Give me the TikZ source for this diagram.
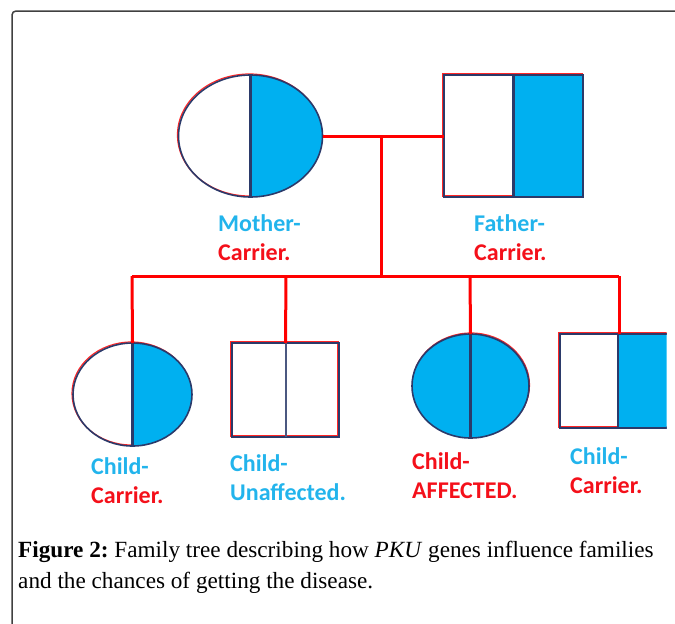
\documentclass[tikz,border=0pt]{standalone}
\usepackage{fontspec}
\setmainfont{Liberation Serif}
\newfontfamily\lblfont{Carlito}
\usetikzlibrary{shapes.geometric}
\definecolor{fillblue}{HTML}{00B0F0}
\definecolor{lblue}{HTML}{22B4EC}
\definecolor{lred}{HTML}{F4101A}
\definecolor{navy}{HTML}{2B3A6A}
\definecolor{framegray}{HTML}{404040}
\tikzset{
  person/.style={draw=navy, line width=1.6pt, inner sep=0pt, outer sep=0pt},
  fem/.style={person, ellipse},
  mal/.style={person, rectangle},
  halffill/.style={path picture={\fill[fillblue] (path picture bounding box.north) rectangle (path picture bounding box.south east);}},
  fullfill/.style={fill=fillblue},
  divider/.style={draw=navy, line width=2.2pt},
  redfringe/.style={draw=red!85, line width=1.2pt},
  link/.style={draw=red, line width=3pt},
  lbl/.style={anchor=base west, align=left, inner sep=0pt, font=\lblfont\bfseries\fontsize{24}{29}\selectfont},
  frame/.style={draw=framegray, line width=1.5pt, rounded corners=4pt},
  captext/.style={anchor=base west, align=left, inner sep=0pt, font=\frenchspacing\fontsize{23.2}{31}\selectfont}
}
\begin{document}
\begin{tikzpicture}[x=1pt,y=-1pt]
\useasboundingbox (0,0) rectangle (675,624);
\draw[frame] (12,640) |- (690,11);
% parents
\draw[redfringe] (249.5,135) ellipse [x radius=72, y radius=61];
\node[fem, halffill, minimum width=144pt, minimum height=122pt] (mother) at (250.5,136) {};
\draw[divider] (mother.north) -- (mother.south);
\draw[redfringe] (443,74) rectangle (582,196);
\node[mal, minimum width=139pt, minimum height=122pt] (father) at (513.5,136) {};
\fill[fillblue] (514,75) rectangle (583,197);
\draw[navy, line width=1.6pt] (father.north west) rectangle (father.south east);
\draw[divider] (father.north) -- (father.south);
% links
\coordinate (mid) at (381,136);
\coordinate (bar) at (381,276);
\coordinate (b1) at (132,276);
\coordinate (b2) at (286,276);
\coordinate (b3) at (470,276);
\coordinate (b4) at (619,276);
\draw[link] (mother.east) -- (father.west);
\draw[link] (mid) -- (bar);
\draw[link] (b1) -- (b4);
% children
\draw[redfringe] (131.5,393.5) ellipse [x radius=59.5, y radius=51.5];
\node[fem, halffill, minimum width=119pt, minimum height=103pt] (c1) at (132.5,394.5) {};
\draw[divider] (c1.north) -- (c1.south);
\draw[redfringe] (231,342) rectangle (338,436);
\node[mal, minimum width=107pt, minimum height=94pt] (c2) at (285.5,390) {};
\draw[divider, line width=2pt, draw=navy!85] (c2.north) -- (c2.south);
\draw[redfringe] (471,385) ellipse [x radius=58.5, y radius=52];
\node[fem, fullfill, minimum width=117pt, minimum height=104pt] (c3) at (470.5,386) {};
\draw[divider] (c3.north) -- (c3.south);
\begin{scope}
\clip (0,0) rectangle (666.5,624);
\draw[redfringe] (559,333) rectangle (690,427);
\node[mal, minimum width=130pt, minimum height=94pt] (c4) at (625,381) {};
\fill[fillblue] (618,334) rectangle (690,428);
\draw[navy, line width=1.6pt] (c4.north west) rectangle (c4.south east);
\draw[divider] (618,334) -- (618,428);
\coordinate (c4top) at (619,334);
\end{scope}
\draw[link] (b1) -- (c1.north);
\draw[link] (b2) -- (c2.north);
\draw[link] (b3) -- (c3.north);
\draw[link] (b4) -- (c4top);
% labels (anchored at the baseline of the second line)
\node[lbl] (lm) at (218,260) {\color{lblue}Mother-\\\color{lred}Carrier.};
\node[lbl] (lf) at (474,260) {\color{lblue}Father-\\\color{lred}Carrier.};
\node[lbl] (l1) at (91,503) {\color{lblue}Child-\\\color{lred}Carrier.};
\node[lbl] (l2) at (230,500) {\color{lblue}Child-\\\color{lblue}Unaffected.};
\node[lbl] (l3) at (412,498) {\color{lred}Child-\\\color{lred}AFFECTED.};
\node[lbl] (l4) at (570,493) {\color{lblue}Child-\\\color{lred}Carrier.};
% caption
\node[captext] (caption) at (18,588) {\textbf{Figure 2:} Family tree describing how \textit{PKU} genes influence families\\and the chances of getting the disease.};
\end{tikzpicture}
\end{document}
